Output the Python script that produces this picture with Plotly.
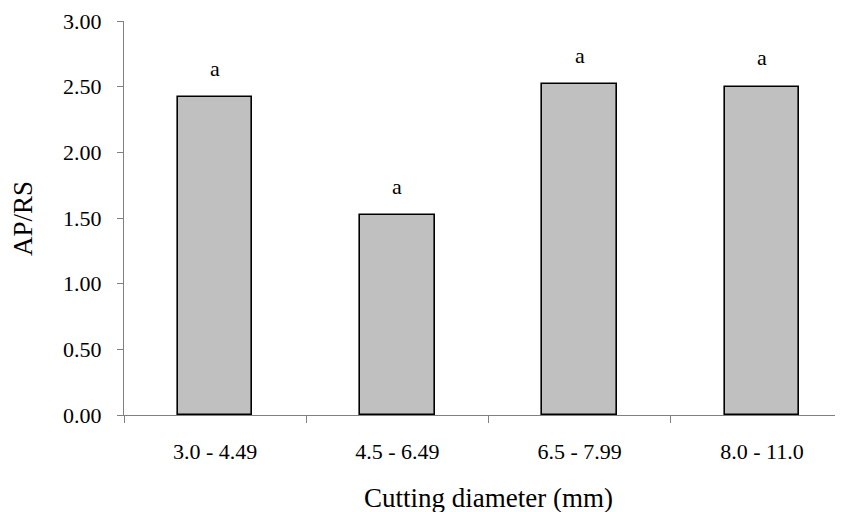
import plotly.graph_objects as go

categories = ["3.0 - 4.49", "4.5 - 6.49", "6.5 - 7.99", "8.0 - 11.0"]
values = [2.42, 1.52, 2.52, 2.50]
letters = ["a", "a", "a", "a"]
y_ticks = [0, 0.5, 1.0, 1.5, 2.0, 2.5, 3.0]

OFF = 8  # page body margin
W, H = 843 - OFF, 512 - OFF
L, R, T = 124 - OFF, 0, 21 - OFF
B = H - (415 - OFF)
plot_w = W - L - R
plot_h = H - T - B
FONT = "Liberation Serif, Times New Roman, serif"


def px_x(sx):
    return (sx - OFF - L) / plot_w


def px_y(sy):
    return (T + plot_h - (sy - OFF)) / plot_h


fig = go.Figure()
fig.add_trace(go.Bar(
    x=categories, y=values, width=0.41,
    marker=dict(color="#C0C0C0", line=dict(color="black", width=1.6)),
    hoverinfo="skip",
))

for c, v, t in zip(categories, values, letters):
    fig.add_annotation(x=c, y=v, text=t, showarrow=False, xref="x", yref="y",
                       yanchor="middle", yshift=29,
                       font=dict(family=FONT, size=22, color="black"))

# axis titles
fig.add_annotation(x=px_x(489), y=px_y(481),
                   xref="paper", yref="paper", text="Cutting diameter (mm)",
                   showarrow=False, xanchor="center", yanchor="top",
                   font=dict(family=FONT, size=27, color="black"))
fig.add_annotation(x=px_x(23), y=0.5, xref="paper", yref="paper",
                   text="AP/RS", textangle=-90, showarrow=False,
                   xanchor="center", yanchor="middle",
                   font=dict(family=FONT, size=27, color="black"))

fig.update_layout(
    width=W, height=H,
    margin=dict(l=L, r=R, t=T, b=B, pad=0, autoexpand=False),
    plot_bgcolor="white", paper_bgcolor="white",
    showlegend=False,
    bargap=0,
    font=dict(family=FONT, size=22, color="black"),
)
fig.update_xaxes(
    type="category", range=[-0.5, 3.445], automargin=False,
    showline=True, linecolor="#808080", linewidth=1,
    ticks="outside", tickson="boundaries", ticklen=7, tickcolor="#808080",
    showgrid=False, zeroline=False,
    tickfont=dict(family=FONT, size=22, color="black"),
    ticklabelstandoff=17,
)
fig.update_yaxes(
    range=[0, 3], tickvals=y_ticks, tickformat=".2f", automargin=False,
    showline=True, linecolor="#808080", linewidth=1,
    ticks="outside", ticklen=6, tickcolor="#808080",
    showgrid=False, zeroline=False,
    tickfont=dict(family=FONT, size=22, color="black"),
    ticklabelstandoff=11,
)

fig.write_html("out.html")
